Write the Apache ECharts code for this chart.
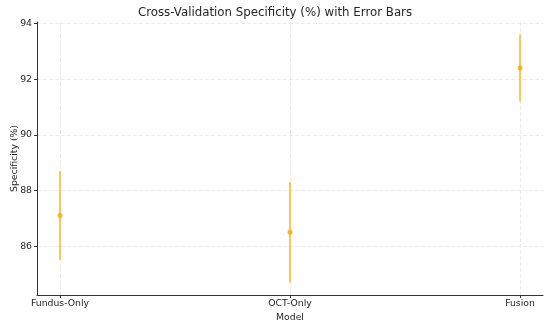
<!DOCTYPE html>
<html>
<head>
<meta charset="utf-8">
<script src="https://cdn.jsdelivr.net/npm/echarts@6/dist/echarts.min.js"></script>
<style>
html,body{margin:0;padding:0;background:#fff;}
#chart{width:550px;height:325px;}
</style>
</head>
<body>
<div id="chart"></div>
<script>
const categories = ['Fundus-Only', 'OCT-Only', 'Fusion'];
const means = [87.1, 86.5, 92.4];
const errors = [1.6, 1.8, 1.2];
const yTicks = [86, 88, 90, 92, 94];
const xTicks = [0, 1, 2];

const font = 'DejaVu Sans';
const textColor = '#262626';
const chart = echarts.init(document.getElementById('chart'), null, {renderer: 'canvas'});

const pointData = means.map((m, i) => [i, m]);
const errData = means.map((m, i) => [i, m - errors[i], m + errors[i]]);

chart.setOption({
  animation: false,
  backgroundColor: '#ffffff',
  title: {
    text: 'Cross-Validation Specificity (%) with Error Bars',
    left: 'center',
    top: 2,
    textStyle: {fontFamily: font, fontSize: 11.8, fontWeight: 'normal', color: textColor}
  },
  grid: {left: 37, right: 7, top: 22, bottom: 30, outerBoundsMode: 'none', containLabel: false},
  xAxis: {
    type: 'value',
    min: -0.1,
    max: 2.1,
    name: 'Model',
    nameLocation: 'middle',
    nameGap: 16,
    nameTextStyle: {fontFamily: font, fontSize: 9.3, color: textColor},
    axisLine: {show: true, onZero: false, lineStyle: {color: '#333', width: 1}},
    axisTick: {show: true, customValues: xTicks, length: 3, lineStyle: {color: '#333'}},
    axisLabel: {
      customValues: xTicks,
      fontFamily: font, fontSize: 9.3, color: textColor, margin: 4,
      formatter: v => categories[Math.round(v)] || ''
    },
    splitLine: {show: true, customValues: xTicks, lineStyle: {color: '#e4e4e4', type: [4, 2], width: 0.8}}
  },
  yAxis: {
    type: 'value',
    min: 84.25,
    max: 94.05,
    name: 'Specificity (%)',
    nameLocation: 'middle',
    nameGap: 18,
    nameMoveOverlap: false,
    nameTextStyle: {fontFamily: font, fontSize: 9.3, color: textColor},
    axisLine: {show: true, onZero: false, lineStyle: {color: '#333', width: 1}},
    axisTick: {show: true, customValues: yTicks, length: 3, lineStyle: {color: '#333'}},
    axisLabel: {customValues: yTicks, fontFamily: font, fontSize: 9.3, color: textColor, margin: 5},
    splitLine: {show: true, customValues: yTicks, lineStyle: {color: '#e4e4e4', type: [4, 2], width: 0.8}}
  },
  series: [
    {
      type: 'custom',
      data: errData,
      renderItem: function (params, api) {
        const x = api.value(0);
        const p1 = api.coord([x, api.value(1)]);
        const p2 = api.coord([x, api.value(2)]);
        return {
          type: 'line',
          shape: {x1: p1[0], y1: p1[1], x2: p2[0], y2: p2[1]},
          style: {stroke: '#FFB81A', lineWidth: 1.5}
        };
      },
      z: 2
    },
    {
      type: 'scatter',
      data: pointData,
      symbol: 'circle',
      symbolSize: 5,
      itemStyle: {color: '#F7A800'},
      z: 3
    }
  ]
});
</script>
</body>
</html>
